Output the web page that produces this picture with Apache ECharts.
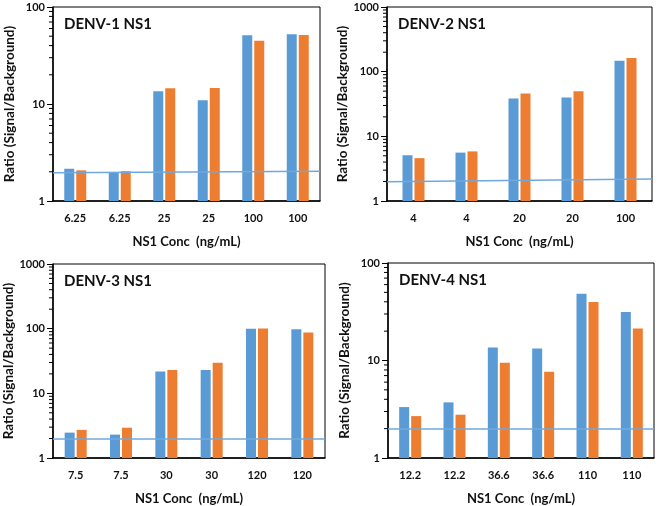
<!DOCTYPE html>
<html>
  <head>
    <meta charset="UTF-8" />
    <title>DENV NS1</title>
    <script src="https://cdn.jsdelivr.net/npm/echarts@6/dist/echarts.min.js"></script>
    <style>
      html, body { margin: 0; padding: 0; background: #fff; }
      #chart { width: 660px; height: 506px; }
    </style>
  </head>
  <body>
    <div id="chart"></div>
    <script>
      // 패널별 데이터
      var titles = ['DENV-1 NS1', 'DENV-2 NS1', 'DENV-3 NS1', 'DENV-4 NS1'];
      var cats1 = ['6.25', '6.25', '25', '25', '100', '100'];
      var cats2 = ['4', '4', '20', '20', '100'];
      var cats3 = ['7.5', '7.5', '30', '30', '120', '120'];
      var cats4 = ['12.2', '12.2', '36.6', '36.6', '110', '110'];
      var blue1 = [2.15, 1.97, 13.5, 10.9, 51, 52.4];
      var orange1 = [2.07, 2.03, 14.5, 14.6, 45, 51.5];
      var blue2 = [5.1, 5.6, 38.5, 40, 147];
      var orange2 = [4.6, 5.85, 46, 50, 163];
      var blue3 = [2.47, 2.3, 21.7, 23, 100, 98];
      var orange3 = [2.72, 2.94, 23, 29.8, 101, 87];
      var blue4 = [3.33, 3.72, 13.6, 13.3, 48.5, 31.5];
      var orange4 = [2.69, 2.78, 9.47, 7.66, 39.8, 21.3];
      // cutoff line (left end, right end)
      var cutoff1 = [1.95, 2.03];
      var cutoff2 = [1.99, 2.19];
      var cutoff3 = [1.97, 1.97];
      var cutoff4 = [1.98, 1.98];
      var yMax = [100, 1000, 1000, 100];
      // log 축 보조 눈금
      var minorTicks2 = [2, 3, 4, 5, 6, 7, 8, 9, 20, 30, 40, 50, 60, 70, 80, 90];
      var minorTicks3 = [2, 3, 4, 5, 6, 7, 8, 9, 20, 30, 40, 50, 60, 70, 80, 90, 200, 300, 400, 500, 600, 700, 800, 900];

      var cats = [cats1, cats2, cats3, cats4];
      var blues = [blue1, blue2, blue3, blue4];
      var oranges = [orange1, orange2, orange3, orange4];
      var cutoffs = [cutoff1, cutoff2, cutoff3, cutoff4];
      var minors = [minorTicks2, minorTicks3, minorTicks3, minorTicks2];

      var fontFamily = 'Lato, "Open Sans", sans-serif';
      var grids = [
        { left: 53, top: 7, width: 267, height: 194 },
        { left: 387, top: 7, width: 265, height: 194 },
        { left: 53, top: 264, width: 272, height: 196 },
        { left: 388, top: 263, width: 266, height: 195 }
      ];

      var chart = echarts.init(document.getElementById('chart'));
      var option = {
        animation: false,
        title: [],
        grid: [],
        xAxis: [],
        yAxis: [],
        series: []
      };

      for (var i = 0; i < 4; i++) {
        var g = grids[i];
        option.grid.push({
          left: g.left,
          top: g.top,
          width: g.width,
          height: g.height,
          show: true,
          borderColor: '#000',
          borderWidth: 1,
          backgroundColor: 'transparent'
        });
        option.title.push({
          text: titles[i],
          left: g.left + 6,
          top: g.top + 5,
          textStyle: { fontFamily: fontFamily, fontSize: 15, fontWeight: 'bold', color: '#111' }
        });
        option.xAxis.push({
          type: 'category',
          gridIndex: i,
          data: cats[i],
          name: 'NS1 Conc  (ng/mL)',
          nameLocation: 'middle',
          nameGap: 34,
          nameTextStyle: { fontFamily: fontFamily, fontSize: 13, fontWeight: 'bold', color: '#111' },
          axisTick: { show: false },
          axisLine: { lineStyle: { color: '#000', width: 1.5 } },
          axisLabel: { fontFamily: fontFamily, fontSize: 11, fontWeight: 'bold', color: '#111', margin: 12 }
        });
        // cutoff 선용 숨김 축
        option.xAxis.push({
          type: 'value',
          gridIndex: i,
          min: 0,
          max: 1,
          show: false
        });
        option.yAxis.push({
          type: 'log',
          logBase: 10,
          gridIndex: i,
          min: 1,
          max: yMax[i],
          name: 'Ratio (Signal/Background)',
          nameLocation: 'middle',
          nameGap: 36,
          nameTextStyle: { fontFamily: fontFamily, fontSize: 13.5, fontWeight: 'bold', color: '#111' },
          axisLine: { show: true, lineStyle: { color: '#000', width: 1.5 } },
          axisTick: { show: true, inside: false, length: 6, lineStyle: { color: '#000' } },
          splitLine: { show: false },
          axisLabel: {
            fontFamily: fontFamily,
            fontSize: 11,
            fontWeight: 'bold',
            color: '#111',
            margin: 8,
            formatter: function (v) {
              return String(v);
            }
          }
        });
        option.series.push({
          type: 'bar',
          xAxisIndex: i * 2,
          yAxisIndex: i,
          data: blues[i],
          barWidth: 10,
          barGap: '20%',
          itemStyle: { color: '#5b9bd5' }
        });
        option.series.push({
          type: 'bar',
          xAxisIndex: i * 2,
          yAxisIndex: i,
          data: oranges[i],
          barWidth: 10,
          barGap: '20%',
          itemStyle: { color: '#ed7d31' }
        });
        option.series.push({
          type: 'line',
          xAxisIndex: i * 2 + 1,
          yAxisIndex: i,
          data: [[0, cutoffs[i][0]], [1, cutoffs[i][1]]],
          symbol: 'none',
          z: 5,
          lineStyle: { color: '#6fa8dc', width: 1.5 }
        });
        // 보조 눈금 (custom)
        option.series.push({
          type: 'custom',
          xAxisIndex: i * 2 + 1,
          yAxisIndex: i,
          clip: false,
          silent: true,
          z: 10,
          data: minors[i].map(function (v) { return [0, v]; }),
          renderItem: function (params, api) {
            var p = api.coord([0, api.value(1)]);
            return {
              type: 'line',
              shape: { x1: p[0] - 4, y1: p[1], x2: p[0], y2: p[1] },
              style: { stroke: '#000', lineWidth: 1 }
            };
          }
        });
      }

      chart.setOption(option);
    </script>
  </body>
</html>
